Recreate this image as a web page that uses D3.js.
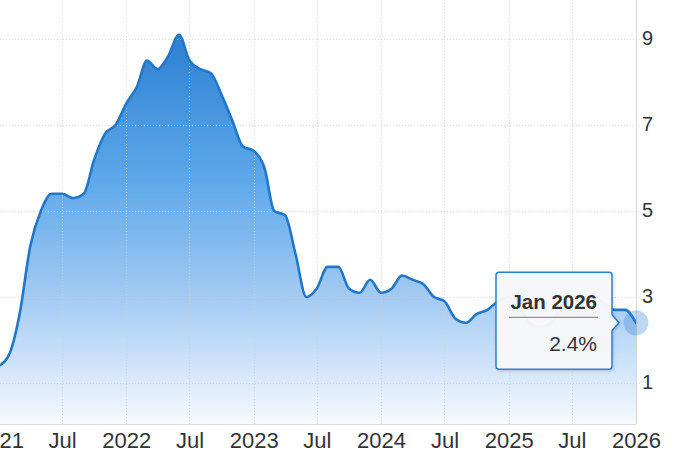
<!DOCTYPE html>
<html lang="en">
<head>
<meta charset="UTF-8">
<title>Inflation rate</title>
<style>
  body { margin: 0; background: #fff; }
  svg { display: block; font-family: "Liberation Sans", Arial, Helvetica, sans-serif; }
</style>
</head>
<body>
<svg id="chart" width="680" height="457"></svg>
<script src="https://cdn.jsdelivr.net/npm/d3@7"></script>
<script>
// monthly values, one array per year (Oct 2025 not published)
var y2021 = [1.4, 1.7, 2.6, 4.2, 5.0, 5.4, 5.4, 5.3, 5.4, 6.2, 6.8, 7.0]
var y2022 = [7.5, 7.9, 8.5, 8.3, 8.6, 9.1, 8.5, 8.3, 8.2, 7.7, 7.1, 6.5]
var y2023 = [6.4, 6.0, 5.0, 4.9, 4.0, 3.0, 3.2, 3.7, 3.7, 3.2, 3.1, 3.4]
var y2024 = [3.1, 3.2, 3.5, 3.4, 3.3, 3.0, 2.9, 2.5, 2.4, 2.6, 2.7, 2.9]
var y2025 = [3.0, 2.8, 2.4, 2.3, 2.4, 2.7, 2.7, 2.9, 3.0, null, 2.7, 2.7]
var y2026 = [2.4]
var years = [2021, 2022, 2023, 2024, 2025, 2026]
var yTicks = [1, 3, 5, 7, 9]

var width = 680, height = 457
var plot = {left: -1, right: 636, top: 0, bottom: 424}

var data = []
;[y2021, y2022, y2023, y2024, y2025, y2026].forEach(function(arr, i) {
  arr.forEach(function(v, m) {
    if (v != null) data.push({date: new Date(years[i], m, 1), value: v})
  })
})

var svg = d3.select('#chart')

var x = d3.scaleTime()
  .domain([new Date(2021, 0, 1), new Date(2026, 0, 1)])
  .range([plot.left, plot.right])
var y = d3.scaleLinear().domain([1, 9]).range([383, 39])

var defs = svg.append('defs')
var grad = defs.append('linearGradient').attr('id', 'fillGrad')
  .attr('gradientUnits', 'userSpaceOnUse')
  .attr('x1', 0).attr('x2', 0).attr('y1', 30).attr('y2', plot.bottom)
grad.append('stop').attr('offset', 0).attr('stop-color', '#2a7fd0')
grad.append('stop').attr('offset', 0.38).attr('stop-color', '#5ea8ea')
grad.append('stop').attr('offset', 0.69).attr('stop-color', '#a6ccf3')
grad.append('stop').attr('offset', 0.94).attr('stop-color', '#e6f0fc')
grad.append('stop').attr('offset', 1).attr('stop-color', '#f8fbff')

var shadow = defs.append('filter').attr('id', 'shadow')
  .attr('x', '-20%').attr('y', '-20%').attr('width', '140%').attr('height', '140%')
shadow.append('feDropShadow').attr('dx', 1).attr('dy', 1).attr('stdDeviation', 1.5)
  .attr('flood-color', '#000').attr('flood-opacity', 0.15)

// area + line
var area = d3.area().curve(d3.curveMonotoneX)
  .x(d => x(d.date)).y0(plot.bottom).y1(d => y(d.value))
var line = d3.line().curve(d3.curveMonotoneX)
  .x(d => x(d.date)).y(d => y(d.value))

svg.append('path').datum(data).attr('fill', 'url(#fillGrad)').attr('d', area)

// grid (drawn over the fill, faint dotted)
var xTicks = d3.timeMonth.every(6).range(new Date(2021, 0, 1), new Date(2026, 0, 2))
var grid = svg.append('g').attr('stroke', '#c9ced6').attr('stroke-opacity', 0.7)
  .attr('stroke-width', 1).attr('stroke-dasharray', '1,2')
grid.selectAll('line.h').data(yTicks).join('line').attr('class', 'h')
  .attr('x1', 0).attr('x2', 640)
  .attr('y1', d => Math.round(y(d)) + 0.5).attr('y2', d => Math.round(y(d)) + 0.5)
grid.selectAll('line.v').data(xTicks.slice(1, -1)).join('line').attr('class', 'v')
  .attr('y1', plot.top).attr('y2', plot.bottom)
  .attr('x1', d => Math.round(x(d)) + 0.5).attr('x2', d => Math.round(x(d)) + 0.5)

svg.append('path').datum(data).attr('fill', 'none').attr('stroke', '#2277c8')
  .attr('stroke-width', 2.6).attr('stroke-linejoin', 'round').attr('stroke-linecap', 'round')
  .attr('d', line)

// axes
var xAxis = g => g.attr('transform', `translate(0,${plot.bottom})`)
  .call(d3.axisBottom(x).tickValues(xTicks).tickSize(0).tickPadding(8)
    .tickFormat(d => d.getMonth() === 0 ? d.getFullYear() : 'Jul'))
  .call(g => g.select('.domain').remove())
var yAxis = g => g.attr('transform', `translate(${plot.right},0)`)
  .call(d3.axisRight(y).tickValues(yTicks).tickSize(0).tickPadding(6))
  .call(g => g.select('.domain').remove())

svg.append('g').call(xAxis).attr('font-size', 22).attr('font-family', null)
  .selectAll('text').attr('fill', '#333')
svg.append('g').call(yAxis).attr('font-size', 20).attr('font-family', null)
  .selectAll('text').attr('fill', '#333').attr('dy', '0.25em')

svg.append('line').attr('x1', 0).attr('x2', plot.right)
  .attr('y1', plot.bottom + 0.5).attr('y2', plot.bottom + 0.5)
  .attr('stroke', '#dcdcdc')
svg.append('line').attr('x1', plot.right + 0.5).attr('x2', plot.right + 0.5)
  .attr('y1', plot.top).attr('y2', plot.bottom)
  .attr('stroke', '#d6d6d6')

// hover marker on last point
var last = data[data.length - 1]
var px = x(last.date), py = y(last.value)
svg.append('circle').attr('cx', px).attr('cy', py).attr('r', 12.5)
  .attr('fill', '#2a7fd0').attr('fill-opacity', 0.3)

// tooltip
var bw = 116, bh = 97, r = 3
var bx1 = px - 24, bx0 = bx1 - bw, by0 = py - 50.5, by1 = by0 + bh
var tip = d3.path()
tip.moveTo(bx0 + r, by0)
tip.lineTo(bx1 - r, by0)
tip.quadraticCurveTo(bx1, by0, bx1, by0 + r)
tip.lineTo(bx1, py - 8)
tip.lineTo(px - 17, py)
tip.lineTo(bx1, py + 8)
tip.lineTo(bx1, by1 - r)
tip.quadraticCurveTo(bx1, by1, bx1 - r, by1)
tip.lineTo(bx0 + r, by1)
tip.quadraticCurveTo(bx0, by1, bx0, by1 - r)
tip.lineTo(bx0, by0 + r)
tip.quadraticCurveTo(bx0, by0, bx0 + r, by0)
tip.closePath()

var tg = svg.append('g')
tg.append('path').attr('d', tip.toString()).attr('fill', '#f7f8fa').attr('fill-opacity', 0.97)
  .attr('stroke', '#2b7fd0').attr('stroke-width', 1.5).attr('filter', 'url(#shadow)')
tg.append('text').attr('x', bx1 - 15).attr('y', py - 14).attr('text-anchor', 'end')
  .attr('font-size', 20.5).attr('font-weight', 'bold').attr('fill', '#333')
  .text(d3.timeFormat('%b %Y')(last.date))
tg.append('line').attr('x1', bx0 + 13).attr('x2', bx1 - 14)
  .attr('y1', py - 5.5).attr('y2', py - 5.5).attr('stroke', '#777').attr('stroke-width', 1)
tg.append('text').attr('x', bx1 - 15).attr('y', py + 28).attr('text-anchor', 'end')
  .attr('font-size', 21).attr('fill', '#333')
  .text(d3.format('.1f')(last.value) + '%')
</script>
</body>
</html>
